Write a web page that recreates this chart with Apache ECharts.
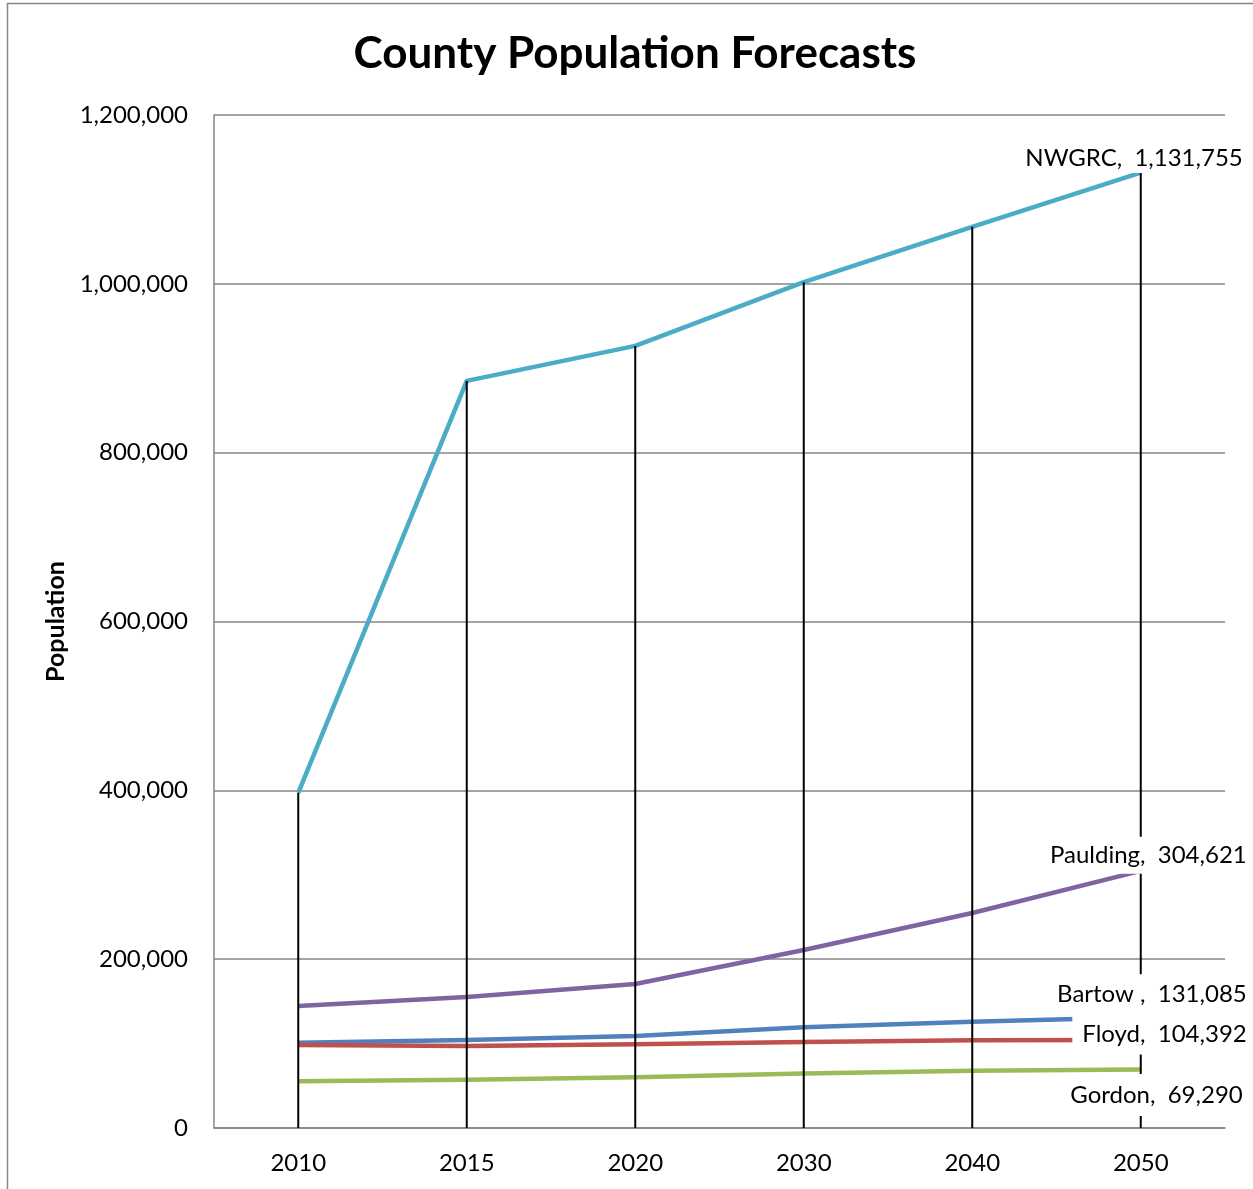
<!DOCTYPE html>
<html>
<head>
<meta charset="utf-8">
<script src="https://cdn.jsdelivr.net/npm/echarts@6/dist/echarts.min.js"></script>
<style>
html,body{margin:0;padding:0;background:#fff;}
#chart{width:1253px;height:1189px;}
</style>
</head>
<body>
<div id="chart"></div>
<script>
const categories = ['2010', '2015', '2020', '2030', '2040', '2050'];
const nwgrc    = [397000, 885000, 926500, 1002000, 1067500, 1131755];
const paulding = [144500, 155200, 170600, 210900, 254700, 304621];
const bartow   = [101000, 104200, 109000, 119300, 125900, 131085];
const floyd    = [98300, 97100, 99300, 101900, 103900, 104392];
const gordon   = [55300, 57200, 60000, 64700, 67800, 69290];
const labelNames = ['NWGRC', 'Paulding', 'Bartow ', 'Floyd', 'Gordon'];

const FONT = 'Lato';
const fmt = v => Number(v).toLocaleString('en-US');
const last = categories.length - 1;

const chart = echarts.init(document.getElementById('chart'), null, {renderer: 'canvas'});

function lineSeries(name, data, color) {
  return {
    name: name, type: 'line', data: data, z: 2,
    showSymbol: false, symbol: 'none', smooth: false,
    lineStyle: {color: color, width: 4.5, cap: 'butt', join: 'round'},
    itemStyle: {color: color},
    silent: true
  };
}

function endLabel(name, values, pos, pad) {
  return {
    value: [categories[last], values[last]],
    label: {
      show: true,
      formatter: name + ',  ' + fmt(values[last]),
      position: pos,
      align: 'right',
      verticalAlign: 'middle',
      fontFamily: FONT, fontSize: 24, color: '#000',
      lineHeight: 24,
      backgroundColor: '#fff',
      padding: pad
    }
  };
}

const option = {
  animation: false,
  backgroundColor: '#fff',
  title: {
    text: 'County Population Forecasts',
    left: 630, top: 27,
    textAlign: 'center',
    textStyle: {fontFamily: FONT, fontWeight: 'bold', fontSize: 44, color: '#000'}
  },
  graphic: [{
    type: 'rect', silent: true, z: 0,
    shape: {x: 7.5, y: 3.5, width: 1400, height: 1400},
    style: {fill: 'none', stroke: '#868686', lineWidth: 1.5}
  }],
  grid: {left: 214, right: 28, top: 115, bottom: 61},
  xAxis: {
    type: 'category', data: categories, boundaryGap: true,
    axisLine: {lineStyle: {color: '#868686', width: 1.5}},
    axisTick: {show: false},
    axisLabel: {fontFamily: FONT, fontSize: 24, color: '#000', margin: 23},
    splitLine: {show: false}
  },
  yAxis: {
    type: 'value', min: 0, max: 1200000, interval: 200000,
    name: 'Population', nameLocation: 'middle', nameGap: 143,
    nameTextStyle: {fontFamily: FONT, fontWeight: 'bold', fontSize: 25, color: '#000'},
    axisLine: {show: true, lineStyle: {color: '#868686', width: 1.5}},
    axisTick: {show: false},
    axisLabel: {fontFamily: FONT, fontSize: 24, color: '#000', margin: 26, formatter: fmt},
    splitLine: {show: true, lineStyle: {color: '#868686', width: 1.5}}
  },
  series: [
    lineSeries('Bartow', bartow, '#4F81BD'),
    lineSeries('Floyd', floyd, '#C0504D'),
    lineSeries('Gordon', gordon, '#9BBB59'),
    lineSeries('Paulding', paulding, '#8064A2'),
    lineSeries('NWGRC', nwgrc, '#4BACC6'),
    {
      name: 'drop', type: 'bar', data: nwgrc, barWidth: 2, z: 3, silent: true,
      itemStyle: {color: '#000'}
    },
    {
      name: 'labels', type: 'scatter', z: 4, symbolSize: 0, silent: true,
      itemStyle: {opacity: 1},
      data: [
        endLabel(labelNames[0], nwgrc, [106, -14.6], [4, 4, 2, 6]),
        endLabel(labelNames[1], paulding, [110, -15.5], [10, 4, 3, 10]),
        endLabel(labelNames[2], bartow, [110, -23], [10, 4, 6, 10]),
        endLabel(labelNames[3], floyd, [110, -6], [11, 4, 6, 10]),
        endLabel(labelNames[4], gordon, [106, 25.5], [11, 4, 7, 10])
      ]
    }
  ]
};
chart.setOption(option);
</script>
</body>
</html>
